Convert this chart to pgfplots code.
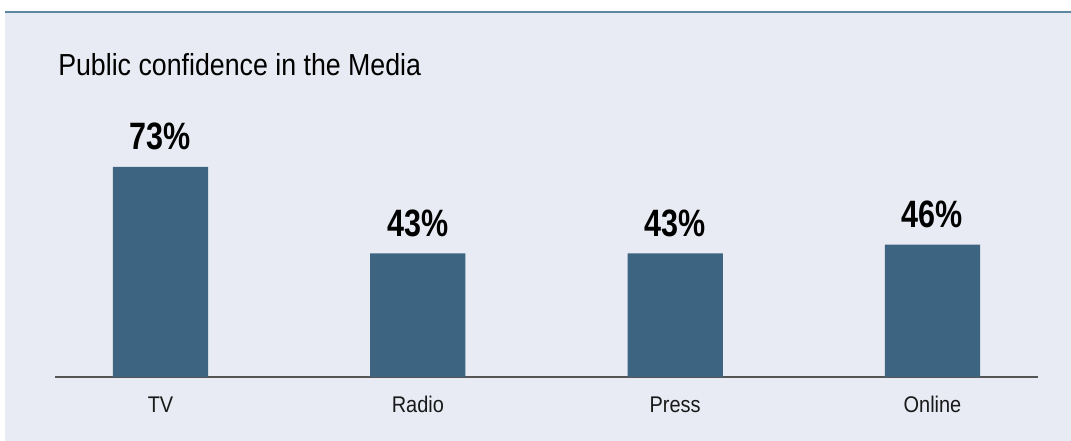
\documentclass[border=0pt]{standalone}
\usepackage{pgfplots}
\pgfplotsset{compat=1.18}
\usepackage{fontspec}
\setmainfont{Liberation Sans}[FakeStretch=0.88]
\newfontfamily\pctfont{Liberation Sans}[FakeStretch=0.8]
\definecolor{bg}{HTML}{E8EBF3}
\definecolor{barc}{HTML}{3D6480}
\definecolor{topl}{HTML}{5B87A3}
\definecolor{axl}{HTML}{555555}
\begin{document}
\begin{tikzpicture}
\useasboundingbox (0,0) rectangle (803.25pt,330.75pt);
\fill[bg] (3.75pt,0) rectangle (803.25pt,322.5pt);
\fill[topl] (3.75pt,321pt) rectangle (803.25pt,322.8pt);
\node[anchor=base west, inner sep=0, font=\fontsize{22.8}{26}\selectfont] at (43.5pt,273.75pt) {Public confidence in the Media};
\begin{axis}[
  at={(41.25pt,48pt)}, anchor=south west,
  scale only axis, width=737.25pt, height=215.8pt,
  xmin=-0.41, xmax=3.41, ymin=0, ymax=100,
  axis x line=bottom, axis y line=none,
  axis line style={axl, line width=1pt, -},
  xtick={0,1,2,3}, xticklabels={TV,Radio,Press,Online},
  major tick length=0pt,
  xticklabel style={anchor=base, inner sep=0pt, yshift=-27pt, font=\fontsize{17}{20}\selectfont, text=black!90},
  ytick=\empty,
  clip=false,
  ybar, bar width=0.37,
  /pgf/number format/assume math mode=true,
  nodes near coords={\pgfmathprintnumber{\pgfplotspointmeta}\%},
  nodes near coords style={anchor=base, inner sep=0pt, yshift=12.75pt, font=\pctfont\fontsize{28.6}{32}\selectfont\bfseries, text=black},
]
\addplot[fill=barc, draw=none, bar shift=0pt] coordinates {(0,73) (1,43) (2,43) (3,46)};
\end{axis}
\end{tikzpicture}
\end{document}
